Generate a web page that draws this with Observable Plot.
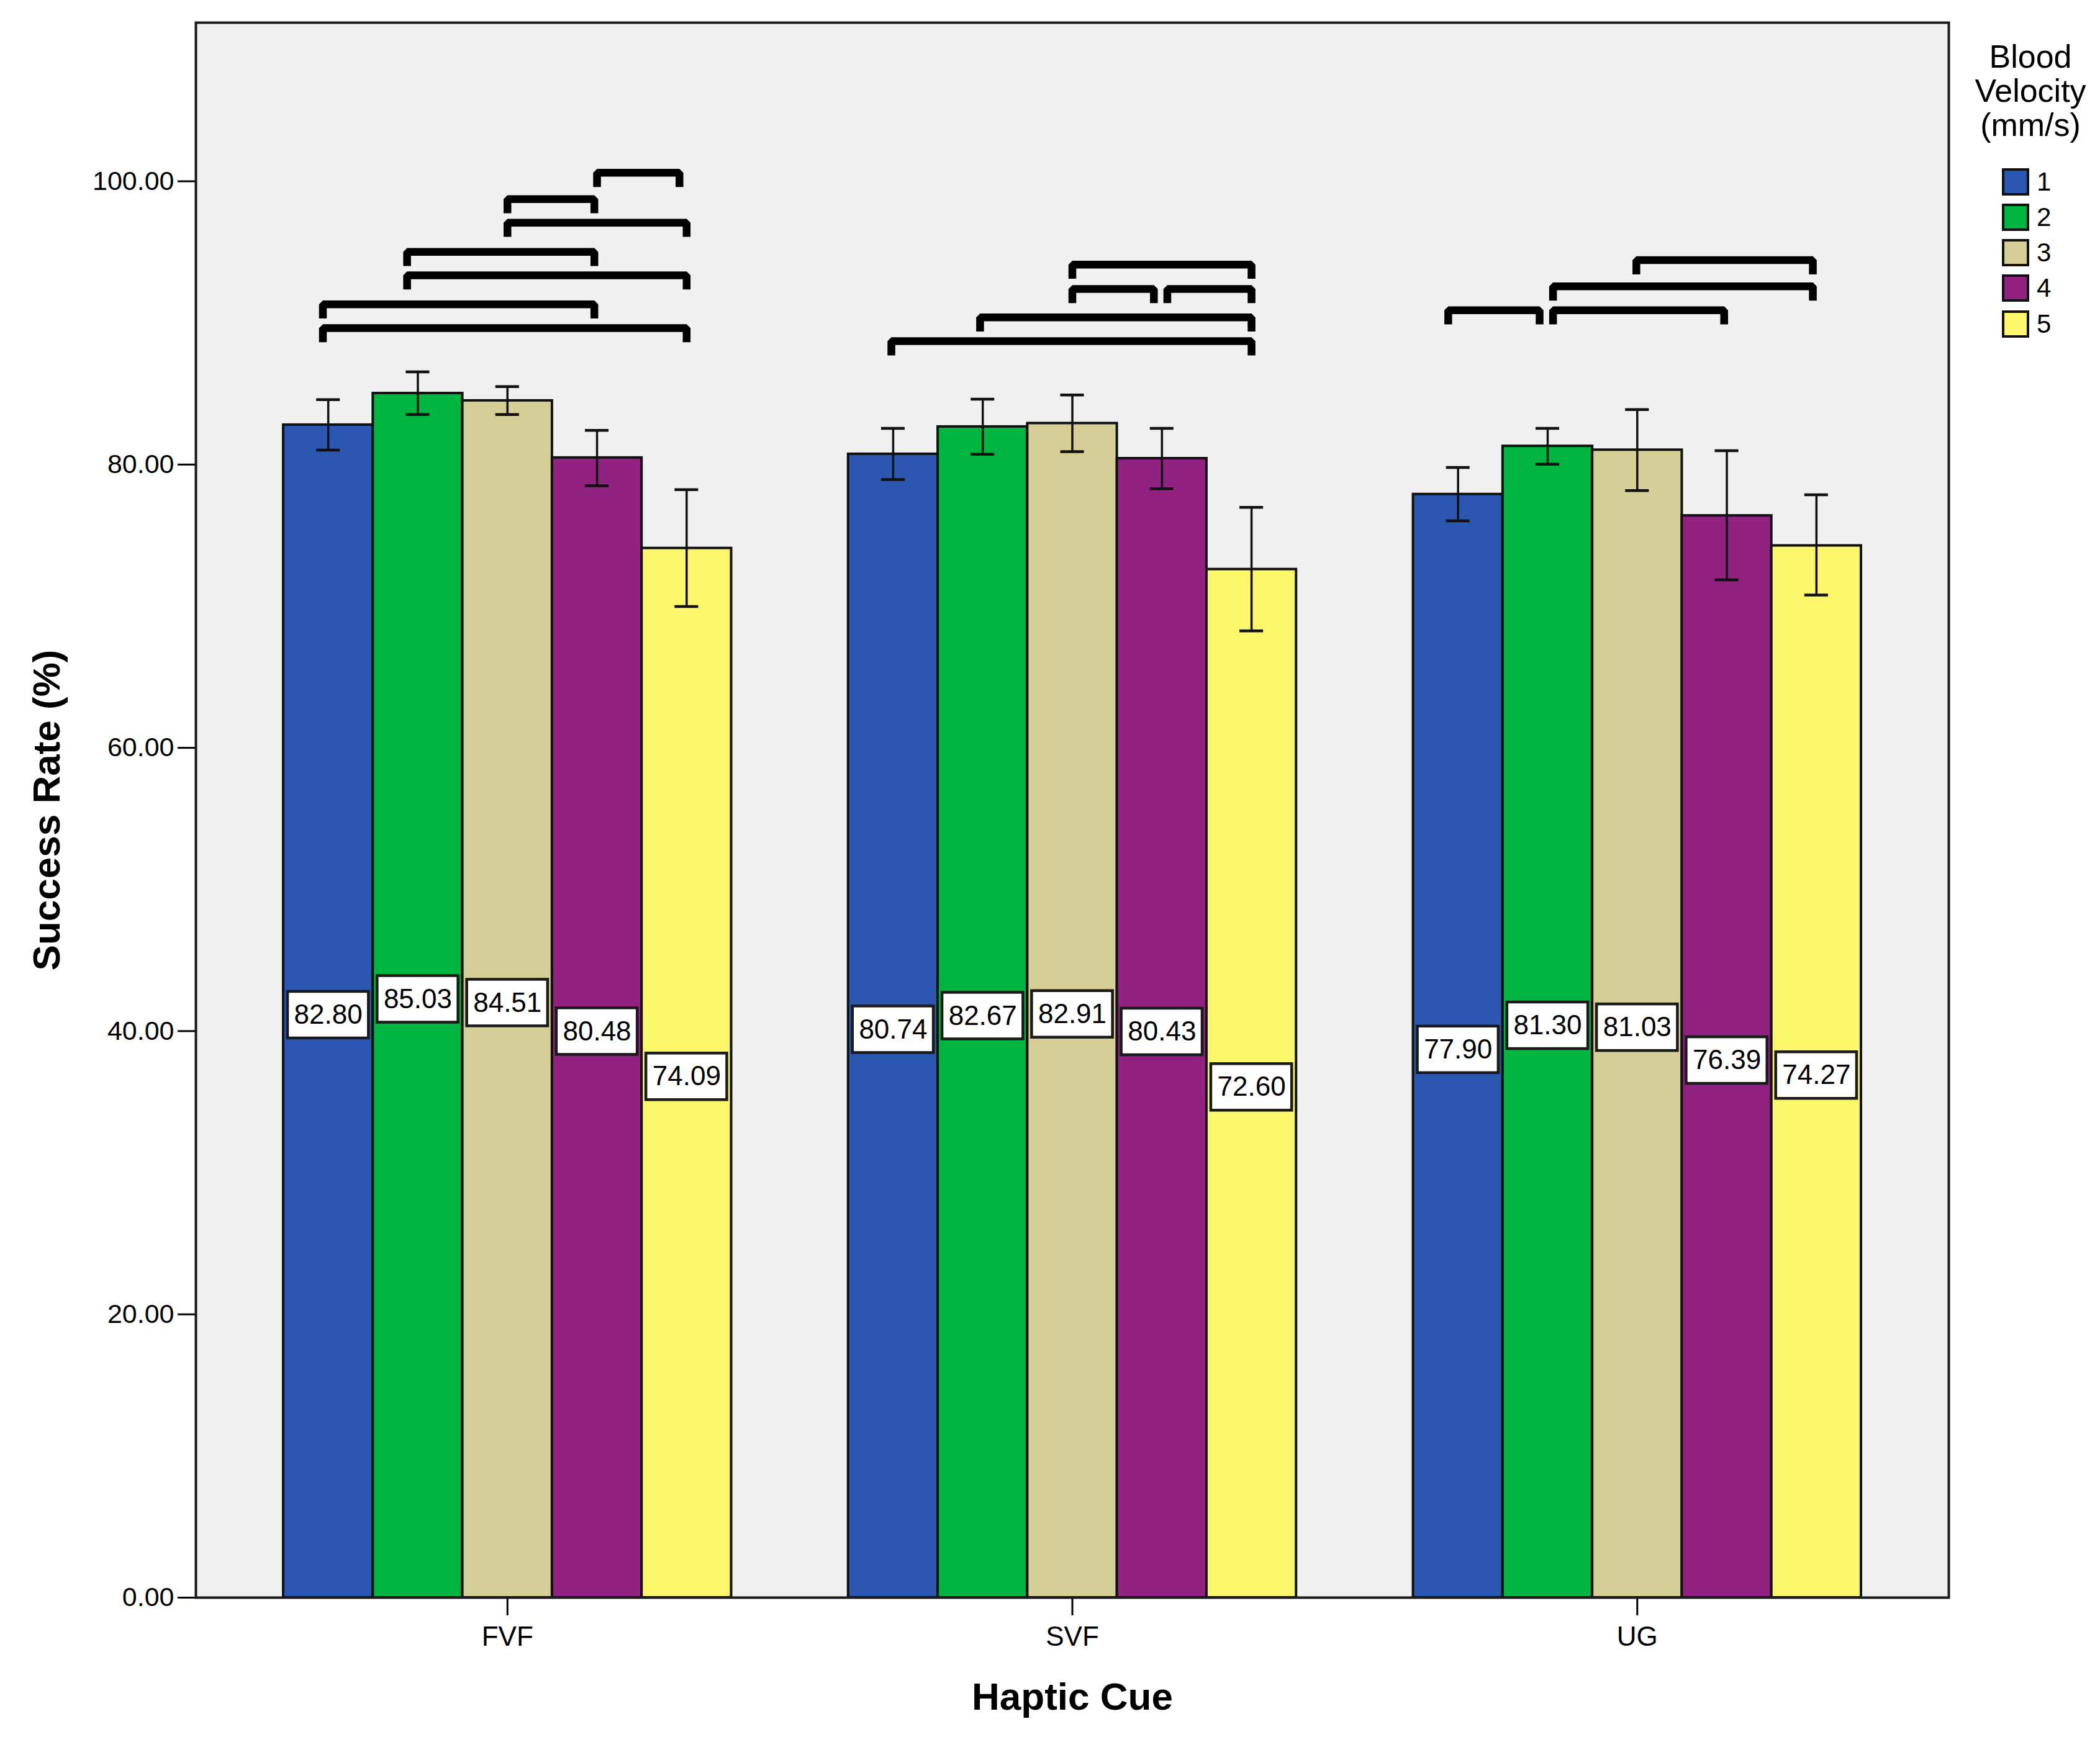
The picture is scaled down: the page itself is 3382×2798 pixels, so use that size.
<!DOCTYPE html>
<html>
<head>
<meta charset="utf-8">
<script src="https://cdn.jsdelivr.net/npm/d3@7"></script>
<script src="https://cdn.jsdelivr.net/npm/@observablehq/plot@0.6"></script>
<style>
  body { margin: 0; background: #fff; }
  #wrap { position: relative; width: 3382px; height: 2798px; font-family: "Liberation Sans", Arial, sans-serif; }
  #legend { position: absolute; left: 3160px; top: 64px; width: 220px; color: #000; }
  #legend .title { text-align: center; font-size: 52px; line-height: 55px; }
  #legend .rows { margin-top: 35px; }
  #legend .row { display: flex; align-items: center; height: 57.25px; padding-left: 64px; }
  #legend .sw { box-sizing: border-box; width: 44px; height: 44px; border: 4px solid #111; }
  #legend .lab { font-size: 42px; line-height: 44px; margin-left: 12px; }
</style>
</head>
<body>
<div id="wrap">
  <div id="chart"></div>
  <div id="legend"></div>
</div>
<script>
// ---- Data ----
const cues = ["FVF", "SVF", "UG"];
const velocities = [1, 2, 3, 4, 5];
const colors = ["#2C57B0", "#00B640", "#D5CE97", "#912281", "#FCF66A"];

const meansFVF = [82.80, 85.03, 84.51, 80.48, 74.09];
const meansSVF = [80.74, 82.67, 82.91, 80.43, 72.60];
const meansUG  = [77.90, 81.30, 81.03, 76.39, 74.27];

const lowerFVF = [81.02, 83.53, 83.53, 78.50, 69.98];
const upperFVF = [84.58, 86.55, 85.50, 82.41, 78.23];
const lowerSVF = [78.94, 80.73, 80.91, 78.29, 68.26];
const upperSVF = [82.56, 84.62, 84.91, 82.56, 76.98];
const lowerUG  = [76.03, 80.02, 78.16, 71.86, 70.79];
const upperUG  = [79.79, 82.56, 83.88, 80.98, 77.87];

const yTicks = [0, 20, 40, 60, 80, 100];

// significance brackets: cue, from (velocity position), to, level
const bracketCue   = ["FVF","FVF","FVF","FVF","FVF","FVF","FVF","SVF","SVF","SVF","SVF","SVF","UG","UG","UG","UG"];
const bracketFrom  = [4.00, 3.00, 3.00, 1.88, 1.88, 0.94, 0.94, 3.00, 3.00, 4.06, 1.97, 0.98, 2.99, 2.06, 0.89, 2.06];
const bracketTo    = [4.92, 3.97, 5.00, 3.97, 5.00, 3.97, 5.00, 5.00, 3.91, 5.00, 5.00, 5.00, 4.96, 4.96, 1.91, 3.97];
const bracketLevel = [100.6, 98.74, 97.08, 95.02, 93.36, 91.31, 89.64, 94.12, 92.40, 92.40, 90.39, 88.71, 94.43, 92.58, 90.90, 90.90];

// ---- Layout ----
const W = 3382, H = 2798;
const margin = {top: 36, right: 244, bottom: 225, left: 315};
const yMax = 111.2;
const barW = 0.1586;              // width of one bar in x units (one unit = one cue group)
const legDrop = 1.0;              // bracket leg length in y units
const pxPerUnit = (H - margin.top - margin.bottom) / yMax;
const boxHalf = 37.5 / pxPerUnit; // half-height of value boxes in y units

const posOf = (cue, v) => cues.indexOf(cue) + (v - 3) * barW;

const table = [];
const series = {FVF: [meansFVF, lowerFVF, upperFVF], SVF: [meansSVF, lowerSVF, upperSVF], UG: [meansUG, lowerUG, upperUG]};
for (const cue of cues) {
  const [m, lo, hi] = series[cue];
  velocities.forEach((v, i) => {
    table.push({cue, velocity: v, value: m[i], lo: lo[i], hi: hi[i],
      cx: posOf(cue, v), x1: posOf(cue, v) - barW / 2, x2: posOf(cue, v) + barW / 2});
  });
}

const bracketPts = [];
bracketCue.forEach((cue, i) => {
  const a = posOf(cue, bracketFrom[i]), b = posOf(cue, bracketTo[i]), L = bracketLevel[i];
  bracketPts.push({id: i, x: a, y: L - legDrop}, {id: i, x: a, y: L}, {id: i, x: b, y: L}, {id: i, x: b, y: L - legDrop});
});

const capHalf = barW * 0.132;

const chart = Plot.plot({
  width: W,
  height: H,
  marginTop: margin.top,
  marginRight: margin.right,
  marginBottom: margin.bottom,
  marginLeft: margin.left,
  style: {fontFamily: '"Liberation Sans", Arial, sans-serif', fontSize: "43px", background: "white", color: "black", overflow: "visible"},
  x: {domain: [-0.5515, 2.5515]},
  y: {domain: [0, yMax]},
  color: {domain: velocities, range: colors},
  marks: [
    Plot.frame({fill: "#F0F0F0", stroke: null}),
    Plot.rect(table, {x1: "x1", x2: "x2", y1: 0, y2: "value", fill: d => d.velocity, stroke: "#111", strokeWidth: 4}),
    Plot.ruleX(table, {x: "cx", y1: "lo", y2: "hi", stroke: "#111", strokeWidth: 3.5}),
    Plot.ruleY(table, {y: "hi", x1: d => d.cx - capHalf, x2: d => d.cx + capHalf, stroke: "#111", strokeWidth: 4.5}),
    Plot.ruleY(table, {y: "lo", x1: d => d.cx - capHalf, x2: d => d.cx + capHalf, stroke: "#111", strokeWidth: 4.5}),
    Plot.rect(table, {x1: "x1", x2: "x2", y1: d => d.value / 2 - boxHalf, y2: d => d.value / 2 + boxHalf,
      insetLeft: 7, insetRight: 7, dy: 6, fill: "white", stroke: "#1a1a1a", strokeWidth: 4.5}),
    Plot.text(table, {x: "cx", y: d => d.value / 2, dy: 6, text: d => d3.format(".2f")(d.value), fontSize: 44, fill: "black"}),
    Plot.line(bracketPts, {x: "x", y: "y", z: "id", stroke: "black", strokeWidth: 12.5, strokeLinejoin: "miter", strokeLinecap: "butt", curve: "linear"}),
    Plot.axisY({ticks: yTicks, tickFormat: d3.format(".2f"), tickSize: 29, tickPadding: 6, fontSize: 43, strokeWidth: 3, label: null}),
    Plot.axisX({ticks: [0, 1, 2], tickFormat: i => cues[i], tickSize: 29, tickPadding: 17, fontSize: 44, strokeWidth: 3, label: null}),
    Plot.frame({stroke: "#1a1a1a", strokeWidth: 4}),
    Plot.text(["Success Rate (%)"], {text: d => d, frameAnchor: "left", dx: -220, rotate: -90, textAnchor: "middle", lineAnchor: "bottom", fontSize: 62, fontWeight: "bold"}),
    Plot.text(["Haptic Cue"], {text: d => d, frameAnchor: "bottom", dy: 180, textAnchor: "middle", lineAnchor: "bottom", fontSize: 62, fontWeight: "bold"})
  ]
});
document.getElementById("chart").appendChild(chart);

// ---- Legend ----
const legend = document.getElementById("legend");
legend.innerHTML = '<div class="title">Blood<br>Velocity<br>(mm/s)</div><div class="rows">' +
  velocities.map((v, i) => `<div class="row"><div class="sw" style="background:${colors[i]}"></div><div class="lab">${v}</div></div>`).join("") +
  '</div>';
</script>
</body>
</html>
